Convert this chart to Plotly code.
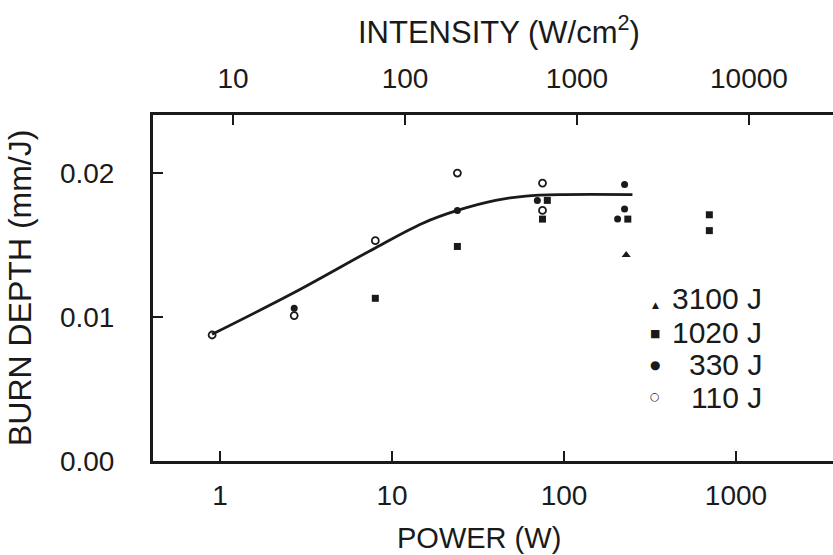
import math
import plotly.graph_objects as go

# ---------------- data ----------------
power_3100 = [230]
depth_3100 = [0.0143]

power_1020 = [8, 24, 80, 75, 235, 700, 700]
depth_1020 = [0.0113, 0.0149, 0.0181, 0.0168, 0.0168, 0.0171, 0.0160]

power_330 = [2.7, 24, 70, 225, 225, 205]
depth_330 = [0.0106, 0.0174, 0.0181, 0.0192, 0.0175, 0.0168]

power_110 = [0.9, 2.7, 8, 24, 75, 75]
depth_110 = [0.00875, 0.0101, 0.0153, 0.0200, 0.0193, 0.0174]

fit_power = [0.9, 2.7, 8, 15, 24, 40, 60, 100, 250]
fit_depth = [0.0088, 0.0117, 0.0148, 0.0165, 0.0174, 0.0181, 0.0184, 0.0185, 0.0185]

power_ticks = [1, 10, 100, 1000]
power_ticktext = ["1", "10", "100", "1000"]
intensity_ticks = [10, 100, 1000, 10000]
intensity_ticktext = ["10", "100", "1000", "10000"]
depth_ticks = [0.0, 0.01, 0.02]
depth_ticktext = ["0.00", "0.01", "0.02"]

legend_names = ["3100 J", "1020 J", "330 J", "110 J"]
legend_glyphs = ["\u25B2", "\u25A0", "\u25CF", "\u25CB"]
SPOT_AREA_CM2 = 0.119  # intensity = power / area

# ---------------- styling ----------------
FONT = "Liberation Sans, Arial, Helvetica, sans-serif"
INK = "#1a1a1a"
L, R, T, B = 153, 0, 115, 94
W, H = 833, 555
PW, PH = W - L - R, H - T - B


def px(xp):
    return (xp - L) / PW


def py(yp):
    return (H - B - yp) / PH


x_range = [-0.3895, 3.564]
x2_range = [v - math.log10(SPOT_AREA_CM2) for v in x_range]

fig = go.Figure()
fig.add_trace(go.Scatter(x=fit_power, y=fit_depth, mode="lines", line=dict(color=INK, width=2.8, shape="spline"),
                         showlegend=False, hoverinfo="skip"))
fig.add_trace(go.Scatter(x=power_3100, y=depth_3100, mode="markers", name=legend_names[0], showlegend=False,
                         marker=dict(symbol="triangle-up", size=8, color=INK)))
fig.add_trace(go.Scatter(x=power_1020, y=depth_1020, mode="markers", name=legend_names[1], showlegend=False,
                         marker=dict(symbol="square", size=7, color=INK)))
fig.add_trace(go.Scatter(x=power_330, y=depth_330, mode="markers", name=legend_names[2], showlegend=False,
                         marker=dict(symbol="circle", size=7, color=INK)))
fig.add_trace(go.Scatter(x=power_110, y=depth_110, mode="markers", name=legend_names[3], showlegend=False,
                         marker=dict(symbol="circle-open", size=7, color=INK, line=dict(width=1.8))))
# carrier trace for the top (intensity) axis
fig.add_trace(go.Scatter(x=intensity_ticks, y=[None] * len(intensity_ticks), xaxis="x2", mode="markers",
                         showlegend=False, hoverinfo="skip", marker=dict(opacity=0)))

axis_common = dict(showgrid=False, zeroline=False, showline=True, linecolor=INK, linewidth=3,
                   ticks="inside", tickcolor=INK, tickwidth=2, ticklen=10,
                   tickfont=dict(family=FONT, size=28, color=INK))

annotations = [
    dict(text="POWER (W)", xref="paper", yref="paper", x=px(479), y=py(538), showarrow=False,
         xanchor="center", yanchor="middle", font=dict(family=FONT, size=29, color=INK)),
    dict(text="INTENSITY (W/cm<sup>2</sup>)", xref="paper", yref="paper", x=px(499), y=py(30),
         showarrow=False, xanchor="center", yanchor="middle", font=dict(family=FONT, size=31, color=INK)),
    dict(text="BURN DEPTH (mm/J)", xref="paper", yref="paper", x=px(20), y=py(288), textangle=-90,
         showarrow=False, xanchor="center", yanchor="middle", font=dict(family=FONT, size=32, color=INK)),
]

# legend: right-aligned labels with small marker glyphs to the left
legend_rows_y = [298, 332, 364, 397]
glyph_rows_y = [305, 333, 365, 396]
glyph_sizes = [9, 11, 12, 11]
for name, glyph, ty, gy, gs in zip(legend_names, legend_glyphs, legend_rows_y, glyph_rows_y, glyph_sizes):
    annotations.append(dict(text=name, xref="paper", yref="paper", x=px(764), y=py(ty), showarrow=False,
                            xanchor="right", yanchor="middle", font=dict(family=FONT, size=30, color=INK)))
    annotations.append(dict(text=glyph, xref="paper", yref="paper", x=px(655), y=py(gy), showarrow=False,
                            xanchor="center", yanchor="middle", font=dict(family="DejaVu Sans", size=gs, color=INK)))

fig.update_layout(
    width=W, height=H,
    margin=dict(l=L, r=R, t=T, b=B),
    paper_bgcolor="white", plot_bgcolor="white",
    font=dict(family=FONT, color=INK),
    showlegend=False,
    xaxis=dict(type="log", range=x_range, tickmode="array", tickvals=power_ticks, ticktext=power_ticktext,
               ticklabelstandoff=7, **axis_common),
    xaxis2=dict(type="log", range=x2_range, overlaying="x", side="top", anchor="y", tickmode="array",
                tickvals=intensity_ticks, ticktext=intensity_ticktext, ticklabelstandoff=13, **axis_common),
    yaxis=dict(range=[0, 0.02403], tickmode="array", tickvals=depth_ticks, ticktext=depth_ticktext,
               ticklabelstandoff=30, **axis_common),
    annotations=annotations,
)

fig.write_html("out.html", config={"displayModeBar": False},
               post_script="document.body.style.margin='0px';document.body.style.padding='0px';")
